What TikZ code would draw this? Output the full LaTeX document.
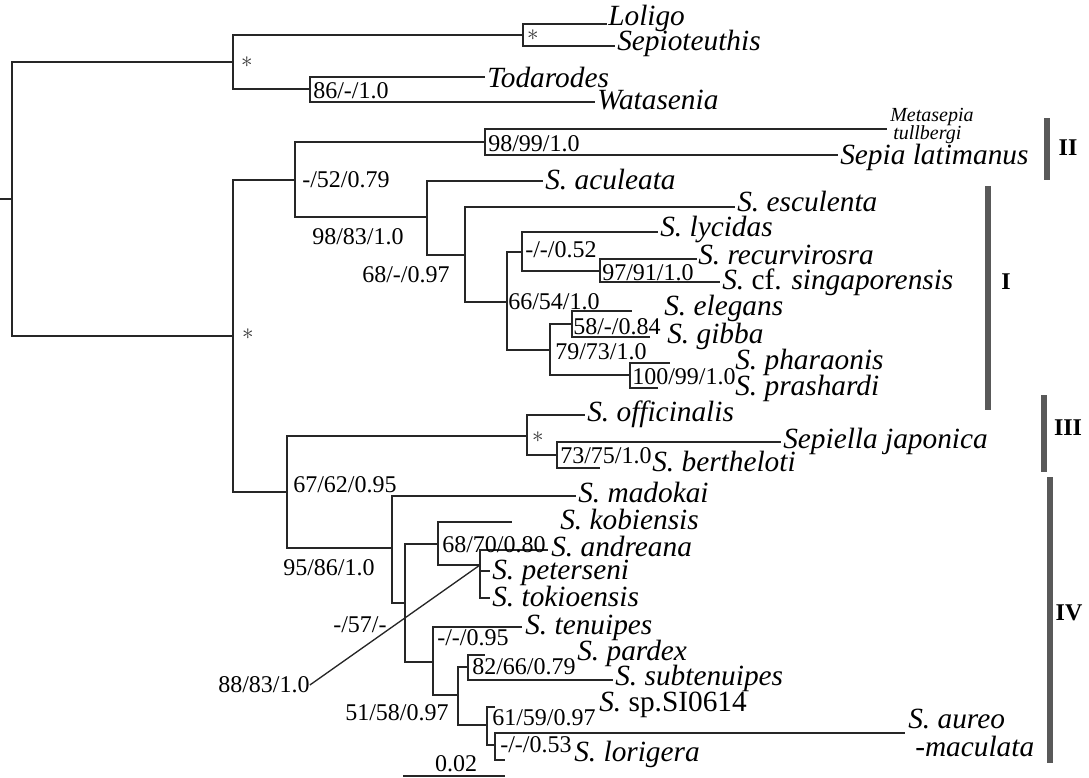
\documentclass[tikz,border=0pt]{standalone}
\usepackage{fontspec}
\setmainfont{Liberation Serif}
\begin{document}
\begin{tikzpicture}[x=0.75pt,y=-0.75pt,
  br/.style={line width=1.3pt, draw=black!85},
  bar/.style={line width=3.8pt, draw=black!65},
  tax/.style={anchor=base west, inner sep=0pt, font=\fontsize{22}{23}\selectfont\itshape},
  meta/.style={anchor=base west, inner sep=0pt, font=\fontsize{15}{16}\selectfont\itshape},
  lbl/.style={anchor=west, inner sep=0pt, font=\fontsize{18}{20}\selectfont},
  clade/.style={inner sep=0pt, font=\fontsize{18}{20}\selectfont\bfseries},
  ast/.style={inner sep=0pt, font=\fontsize{16}{16}\selectfont, text=black!80}]
\useasboundingbox (0,0) rectangle (1089,778);

% internal nodes
\coordinate (stub) at (0,199);
\coordinate (R) at (12,199);
\coordinate (A) at (233,62);
\coordinate (A1) at (523,35);
\coordinate (A2) at (310,89);
\coordinate (B) at (233,336);
\coordinate (B1) at (295,180);
\coordinate (C) at (485,142);
\coordinate (D) at (427,217);
\coordinate (E) at (465,255);
\coordinate (F) at (507,302);
\coordinate (G) at (522,252);
\coordinate (H) at (600,271);
\coordinate (I) at (550,350);
\coordinate (J) at (572,324);
\coordinate (K) at (630,375);
\coordinate (B2) at (287,492);
\coordinate (L) at (527,436);
\coordinate (M) at (557,455);
\coordinate (N) at (392,548);
\coordinate (O) at (405,603);
\coordinate (P) at (438,544);
\coordinate (Q) at (480,565);
\coordinate (R2) at (433,662);
\coordinate (S) at (458,695);
\coordinate (T) at (468,667);
\coordinate (U) at (487,725);
\coordinate (V) at (495,745);

% leaf tips
\coordinate (tLol) at (607,24);
\coordinate (tSep) at (615,46);
\coordinate (tTod) at (485,77);
\coordinate (tWat) at (595,102);
\coordinate (tMet) at (887,129);
\coordinate (tLat) at (838,155);
\coordinate (tAcu) at (543,181);
\coordinate (tEsc) at (735,207);
\coordinate (tLyc) at (658,232);
\coordinate (tRec) at (697,259);
\coordinate (tSin) at (720,282);
\coordinate (tEle) at (632,311);
\coordinate (tGib) at (650,337);
\coordinate (tPha) at (670,363);
\coordinate (tPra) at (658,388);
\coordinate (tOff) at (585,415);
\coordinate (tJap) at (781,442);
\coordinate (tBer) at (600,468);
\coordinate (tMad) at (576,496);
\coordinate (tKob) at (512,522);
\coordinate (tAnd) at (548,550);
\coordinate (tPet) at (490,571);
\coordinate (tTok) at (490,598);
\coordinate (tTen) at (522,627);
\coordinate (tPar) at (485,655);
\coordinate (tSub) at (613,680);
\coordinate (tSpS) at (495,707);
\coordinate (tAur) at (905,733);
\coordinate (tLor) at (505,760);

% branches
\draw[br] (stub) -- (R);
\draw[br] (R) |- (A);
\draw[br] (R) |- (B);
\draw[br] (A) |- (A1);
\draw[br] (A) |- (A2);
\draw[br] (A1) |- (tLol);
\draw[br] (A1) |- (tSep);
\draw[br] (A2) |- (tTod);
\draw[br] (A2) |- (tWat);
\draw[br] (B) |- (B1);
\draw[br] (B) |- (B2);
\draw[br] (B1) |- (C);
\draw[br] (B1) |- (D);
\draw[br] (C) |- (tMet);
\draw[br] (C) |- (tLat);
\draw[br] (D) |- (tAcu);
\draw[br] (D) |- (E);
\draw[br] (E) |- (tEsc);
\draw[br] (E) |- (F);
\draw[br] (F) |- (G);
\draw[br] (F) |- (I);
\draw[br] (G) |- (tLyc);
\draw[br] (G) |- (H);
\draw[br] (H) |- (tRec);
\draw[br] (H) |- (tSin);
\draw[br] (I) |- (J);
\draw[br] (I) |- (K);
\draw[br] (J) |- (tEle);
\draw[br] (J) |- (tGib);
\draw[br] (K) |- (tPha);
\draw[br] (K) |- (tPra);
\draw[br] (B2) |- (L);
\draw[br] (B2) |- (N);
\draw[br] (L) |- (tOff);
\draw[br] (L) |- (M);
\draw[br] (M) |- (tJap);
\draw[br] (M) |- (tBer);
\draw[br] (N) |- (tMad);
\draw[br] (N) |- (O);
\draw[br] (O) |- (P);
\draw[br] (O) |- (R2);
\draw[br] (P) |- (tKob);
\draw[br] (P) |- (Q);
\draw[br] (Q) |- (tAnd);
\draw[br] (Q) |- (tPet);
\draw[br] (Q) |- (tTok);
\draw[br] (R2) |- (tTen);
\draw[br] (R2) |- (S);
\draw[br] (S) |- (T);
\draw[br] (S) |- (U);
\draw[br] (T) |- (tPar);
\draw[br] (T) |- (tSub);
\draw[br] (U) |- (tSpS);
\draw[br] (U) |- (V);
\draw[br] (V) |- (tAur);
\draw[br] (V) |- (tLor);

% taxa
\node[tax] (nLol) at (608,25) {Loligo};
\node[tax] (nSep) at (617,50) {Sepioteuthis};
\node[tax] (nTod) at (487,87) {Todarodes};
\node[tax] (nWat) at (597,109) {Watasenia};
\node[meta] (nMet1) at (890,121) {Metasepia};
\node[meta] (nMet2) at (893,139) {tullbergi};
\node[tax] (nLat) at (840,164) {Sepia latimanus};
\node[tax] (nAcu) at (545,189) {S. aculeata};
\node[tax] (nEsc) at (737,211) {S. esculenta};
\node[tax] (nLyc) at (660,236) {S. lycidas};
\node[tax] (nRec) at (698,264) {S. recurvirosra};
\node[tax] (nSin) at (722,289) {S. {\upshape cf.} singaporensis};
\node[tax] (nEle) at (664,315) {S. elegans};
\node[tax] (nGib) at (667,343) {S. gibba};
\node[tax] (nPha) at (735,369) {S. pharaonis};
\node[tax] (nPra) at (735,395) {S. prashardi};
\node[tax] (nOff) at (587,421) {S. officinalis};
\node[tax] (nJap) at (783,448) {Sepiella japonica};
\node[tax] (nBer) at (652,471) {S. bertheloti};
\node[tax] (nMad) at (578,502) {S. madokai};
\node[tax] (nKob) at (560,529) {S. kobiensis};
\node[tax] (nAnd) at (551,556) {S. andreana};
\node[tax] (nPet) at (492,579) {S. peterseni};
\node[tax] (nTok) at (492,606) {S. tokioensis};
\node[tax] (nTen) at (525,634) {S. tenuipes};
\node[tax] (nPar) at (577,660) {S. pardex};
\node[tax] (nSub) at (615,685) {S. subtenuipes};
\node[tax] (nSpS) at (599,711) {S. {\upshape sp.SI0614}};
\node[tax] (nAur1) at (908,728) {S. aureo};
\node[tax] (nAur2) at (915,756) {-maculata};
\node[tax] (nLor) at (574,761) {S. lorigera};

% support labels
\node[lbl] (l1) at (313,91) {86/-/1.0};
\node[lbl] (l2) at (488,144) {98/99/1.0};
\node[lbl] (l3) at (302,180) {-/52/0.79};
\node[lbl] (l4) at (312,237) {98/83/1.0};
\node[lbl] (l5) at (362,275) {68/-/0.97};
\node[lbl] (l6) at (508,302) {66/54/1.0};
\node[lbl] (l7) at (525,250) {-/-/0.52};
\node[lbl] (l8) at (602,273) {97/91/1.0};
\node[lbl] (l9) at (573,327) {58/-/0.84};
\node[lbl] (l10) at (555,352) {79/73/1.0};
\node[lbl] (l11) at (632,377) {100/99/1.0};
\node[lbl] (l12) at (293,485) {67/62/0.95};
\node[lbl] (l13) at (560,456) {73/75/1.0};
\node[lbl] (l14) at (283,568) {95/86/1.0};
\node[lbl] (l15) at (333,625) {-/57/-};
\node[lbl] (l16) at (442,545) {68/70/0.80};
\node[lbl] (l17) at (218,685) {88/83/1.0};
\node[lbl] (l18) at (437,638) {-/-/0.95};
\node[lbl] (l19) at (472,667) {82/66/0.79};
\node[lbl] (l20) at (345,713) {51/58/0.97};
\node[lbl] (l21) at (492,718) {61/59/0.97};
\node[lbl] (l22) at (500,745) {-/-/0.53};
\draw[line width=1pt, draw=black!85] (l17.east) -- (Q);

% asterisks
\node[ast] (s1) at (247,62) {$\ast$};
\node[ast] (s2) at (248,334) {$\ast$};
\node[ast] (s3) at (533,35) {$\ast$};
\node[ast] (s4) at (538,437) {$\ast$};

% scale bar
\coordinate (sb1) at (403,776);
\coordinate (sb2) at (505,776);
\draw[br] (sb1) -- (sb2);
\node[lbl, anchor=center] (sbl) at (456,764) {0.02};

% clade bars
\coordinate (b2a) at (1047,118); \coordinate (b2b) at (1047,180);
\coordinate (b1a) at (988,186); \coordinate (b1b) at (988,410);
\coordinate (b3a) at (1044,395); \coordinate (b3b) at (1044,472);
\coordinate (b4a) at (1050,477); \coordinate (b4b) at (1050,763);
\draw[bar] (b2a) -- (b2b);
\draw[bar] (b1a) -- (b1b);
\draw[bar] (b3a) -- (b3b);
\draw[bar] (b4a) -- (b4b);
\node[clade] (cII) at (1068,148) {II};
\node[clade] (cI) at (1006,282) {I};
\node[clade] (cIII) at (1068,428) {III};
\node[clade] (cIV) at (1069,613) {IV};
\end{tikzpicture}
\end{document}
